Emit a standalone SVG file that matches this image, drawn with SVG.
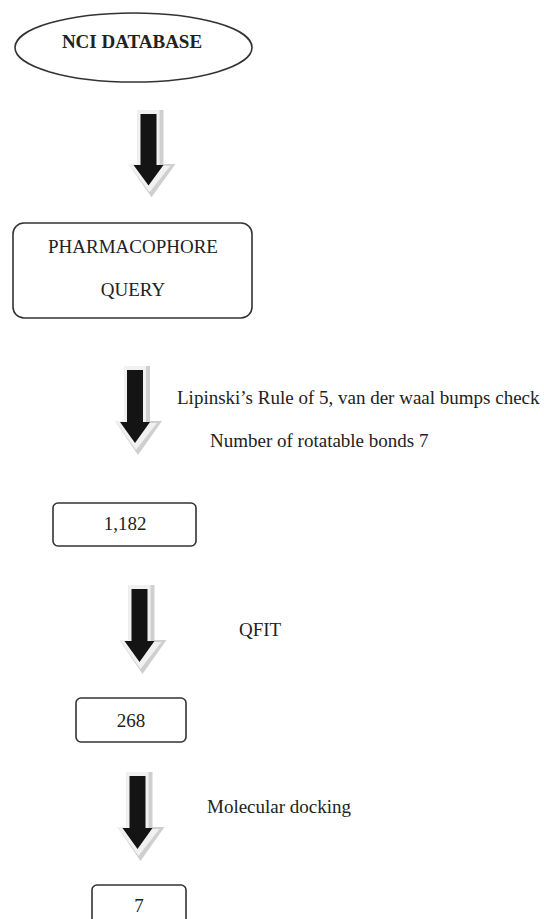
<svg xmlns="http://www.w3.org/2000/svg" width="544" height="919" viewBox="0 0 544 919">
<defs>
<style>
.t{font-family:"Liberation Serif","Times New Roman",serif;font-size:19px;fill:#222}
.c{text-anchor:middle}
.b{font-weight:bold}
.box{fill:#fff;stroke:#333;stroke-width:1.6}
.sh{fill:#cfcfcf}
.lt{fill:#f1f1f1}
.bk{fill:#141414}
</style>
<g id="arrowShape">
<polygon class="sh" points="-11,0 15,0 15,55 27,55 3,89 -20,55 -11,55"/>
<polygon class="lt" points="-11,0 11,0 11,57 22,57 1,84 -20,55 -11,55"/>
<polygon class="bk" points="-8,4 8,4 8,56 15,56 0,77 -15,56 -8,56"/>
</g>
</defs>
<rect width="544" height="919" fill="#fff"/>
<g id="n-nci">
<ellipse class="box" cx="133.5" cy="47.5" rx="118.5" ry="34.5"/>
<text class="t c b" x="132" y="48">NCI DATABASE</text>
</g>
<g id="n-pharm">
<rect class="box" x="13" y="223" width="239" height="95" rx="11"/>
<text class="t c" x="133" y="253">PHARMACOPHORE</text>
<text class="t c" x="133" y="296">QUERY</text>
</g>
<g id="n-1182">
<rect class="box" x="53" y="503" width="143" height="43" rx="5"/>
<text class="t c" x="125" y="530">1,182</text>
</g>
<g id="n-268">
<rect class="box" x="76" y="698" width="110" height="44" rx="5"/>
<text class="t c" x="131" y="727">268</text>
</g>
<g id="n-7">
<rect class="box" x="92" y="885" width="94" height="44" rx="5"/>
<text class="t c" x="139" y="912">7</text>
</g>
<g id="connectors">
<use href="#arrowShape" transform="translate(148.5,110) scale(1,0.98)"/>
<use href="#arrowShape" transform="translate(135,366)"/>
<use href="#arrowShape" transform="translate(139.5,585)"/>
<use href="#arrowShape" transform="translate(137.5,772)"/>
<text class="t" x="177" y="404">Lipinski’s Rule of 5, van der waal bumps check</text>
<text class="t" x="210" y="447">Number of rotatable bonds 7</text>
<text class="t" x="239" y="636">QFIT</text>
<text class="t" x="207" y="813">Molecular docking</text>
</g>
</svg>
